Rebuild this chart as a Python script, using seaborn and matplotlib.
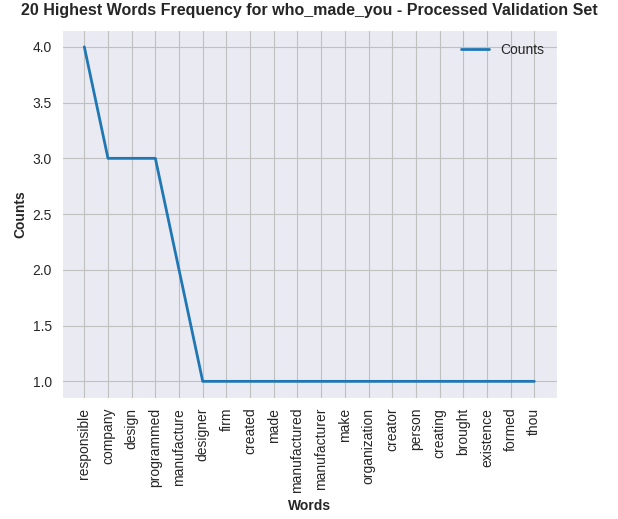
import matplotlib
matplotlib.use("Agg")
import matplotlib.pyplot as plt
import seaborn as sns
import pandas as pd

words = ["responsible", "company", "design", "programmed", "manufacture", "designer",
         "firm", "created", "made", "manufactured", "manufacturer", "make",
         "organization", "creator", "person", "creating", "brought", "existence",
         "formed", "thou"]
counts = [4, 3, 3, 3, 2, 1, 1, 1, 1, 1, 1, 1, 1, 1, 1, 1, 1, 1, 1, 1]

sns.set_style("darkgrid")
plt.rcParams['font.family'] = ['Liberation Sans', 'DejaVu Sans']

df = pd.DataFrame({"Words": words, "Counts": counts})
fig, ax = plt.subplots(figsize=(6.18, 5.19), dpi=100)
fig.subplots_adjust(left=0.1, right=0.901, top=0.942, bottom=0.233)
sns.lineplot(data=df, x="Words", y="Counts", ax=ax, linewidth=2, label="Counts", sort=False)
ax.grid(True, color="silver")
ax.tick_params(axis="both", labelsize=10)
ax.tick_params(axis="x", rotation=90)
ax.set_xlabel("Words", fontweight="bold", fontsize=10)
ax.set_ylabel("Counts", fontweight="bold", fontsize=10)
fig.suptitle("20 Highest Words Frequency for who_made_you - Processed Validation Set",
             fontweight="bold", fontsize=11.5, x=0.5, y=0.995)
ax.legend(loc="upper right", frameon=False, fontsize=10)
fig.savefig("out.png", dpi=100)
